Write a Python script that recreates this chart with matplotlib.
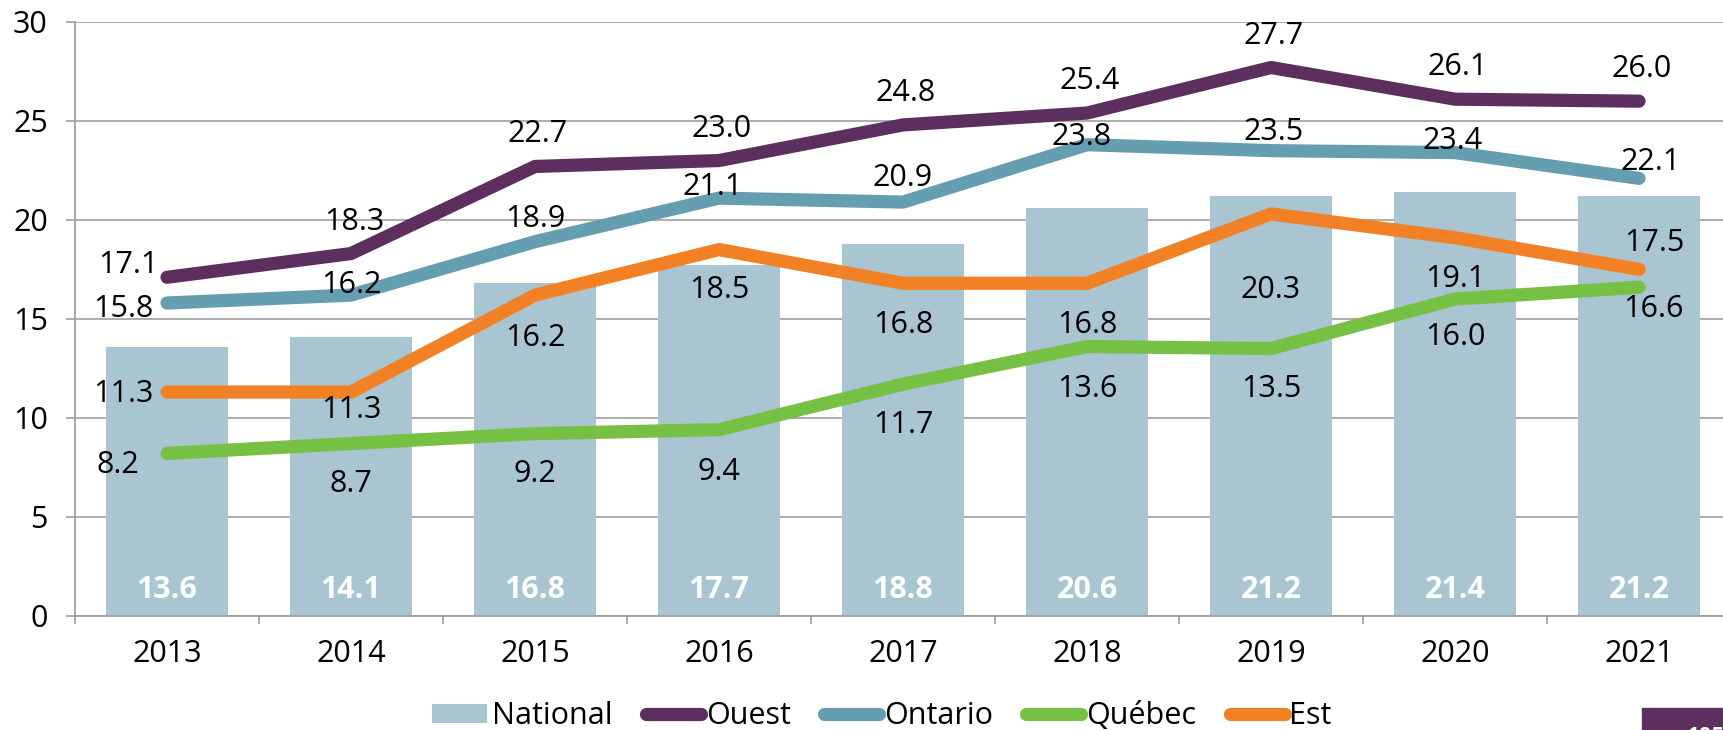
import matplotlib
matplotlib.use("Agg")
import matplotlib.pyplot as plt
from matplotlib.patches import Rectangle
import numpy as np

plt.rcParams['font.family'] = ['Open Sans', 'DejaVu Sans']

years = ['2013', '2014', '2015', '2016', '2017', '2018', '2019', '2020', '2021']
national = [13.6, 14.1, 16.8, 17.7, 18.8, 20.6, 21.2, 21.4, 21.2]
ouest = [17.1, 18.3, 22.7, 23.0, 24.8, 25.4, 27.7, 26.1, 26.0]
ontario = [15.8, 16.2, 18.9, 21.1, 20.9, 23.8, 23.5, 23.4, 22.1]
quebec = [8.2, 8.7, 9.2, 9.4, 11.7, 13.6, 13.5, 16.0, 16.6]
est = [11.3, 11.3, 16.2, 18.5, 16.8, 16.8, 20.3, 19.1, 17.5]

# label offsets in pixels (dx, baseline dy) for each point
ouest_off = [(-39, 4)] + [(3, 24)] * 8
ontario_off = [(-44, -14), (0, 2), (0, 15), (-6, 3), (0, 16), (-5, 0), (3, 11), (-2, 4), (12, 8)]
est_off = [(-44, -10), (0, -26), (0, -51), (0, -48), (0, -50), (0, -50), (0, -84), (0, -49), (15, 18)]
quebec_off = [(-49, -20), (0, -48), (0, -48), (0, -50), (0, -49), (0, -50), (0, -48), (0, -46), (14, -30)]

c_nat = '#A8C5D1'
c_ouest = '#5C2F5E'
c_ont = '#659DB1'
c_que = '#76C043'
c_est = '#F28024'

fs = 22

fig = plt.figure(figsize=(17.23, 7.30), dpi=100)
ax = fig.add_axes([75 / 1723, 114.3 / 730, 1656 / 1723, 593.7 / 730])

x = np.arange(len(years))
bars = ax.bar(x, national, width=0.66, color=c_nat, label='National', zorder=2)
handles = [bars]

series = [
    ('Ouest', ouest, c_ouest, ouest_off),
    ('Ontario', ontario, c_ont, ontario_off),
    ('Québec', quebec, c_que, quebec_off),
    ('Est', est, c_est, est_off),
]
for name, vals, col, offs in series:
    line, = ax.plot(x, vals, color=col, lw=9.5, solid_capstyle='round',
                    solid_joinstyle='round', label=name, zorder=3)
    handles.append(line)
    for xi, v, (dx, dy) in zip(x, vals, offs):
        ax.annotate(f'{v:.1f}', (xi, v), xytext=(dx, dy), textcoords='offset pixels',
                    ha='center', va='baseline', fontsize=fs, color='black', zorder=4)

for xi, v in zip(x, national):
    ax.annotate(f'{v:.1f}', (xi, 0), xytext=(0, 18), textcoords='offset pixels',
                ha='center', va='baseline', fontsize=fs, fontweight='bold',
                color='white', zorder=4)

ax.set_xlim(-0.5, len(years) - 0.5)
ax.set_ylim(0, 30)
ax.set_yticks(range(0, 31, 5))
ax.set_xticks(x)
ax.set_xticklabels(years)
ax.set_xticks(np.arange(-0.5, len(years) + 0.5, 1), minor=True)
ax.tick_params(axis='x', which='major', length=0, pad=17, labelsize=fs)
ax.tick_params(axis='x', which='minor', length=6, color='#A0A0A0', width=1.2)
ax.tick_params(axis='y', length=6.5, color='#A0A0A0', width=1.2, pad=13, labelsize=fs)

ax.grid(axis='y', color='#A6A6A6', lw=1.3, zorder=0)
ax.set_axisbelow(True)
for s in ['top', 'right']:
    ax.spines[s].set_visible(False)
for s in ['left', 'bottom']:
    ax.spines[s].set_color('#A0A0A0')
    ax.spines[s].set_linewidth(1.3)

leg = fig.legend(handles=handles, labels=['National', 'Ouest', 'Ontario', 'Québec', 'Est'],
                 loc='center', bbox_to_anchor=(882 / 1723, 1 - 716 / 730), ncol=5,
                 frameon=False, handlelength=1.8, handleheight=0.56, handletextpad=0.15,
                 columnspacing=1.1, borderaxespad=0, borderpad=0, fontsize=fs)
for h in leg.legend_handles[1:]:
    h.set_linewidth(9.5)
    h.set_solid_capstyle('round')

# page number tab in the corner
fig.patches.append(Rectangle((1642 / 1723, 0), 81 / 1723, 22 / 730,
                             transform=fig.transFigure, color='#5C2F5E', zorder=5))
fig.text(1687 / 1723, 4 / 730, '105', color='white', fontsize=16, fontweight='bold',
         ha='left', va='top', zorder=6)

fig.savefig('out.png', dpi=100)
